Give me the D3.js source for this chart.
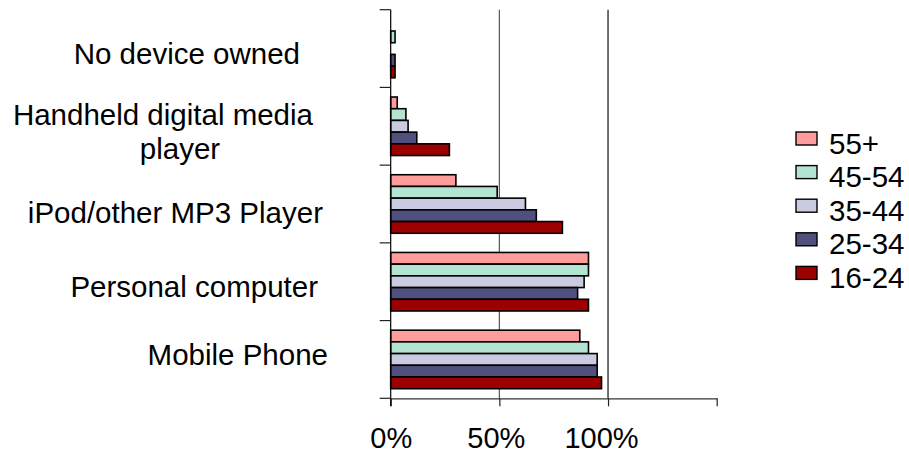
<!DOCTYPE html>
<html>
<head>
<meta charset="utf-8">
<script src="https://cdn.jsdelivr.net/npm/d3@7"></script>
<style>
  html, body { margin: 0; padding: 0; background: #fff; }
  svg { display: block; font-family: "Liberation Sans", Arial, sans-serif; }
</style>
</head>
<body>
<svg id="chart" width="909" height="456"></svg>
<script>
// Device ownership by age group (share of respondents, %)
const categories = ["No device owned", "Handheld digital media player", "iPod/other MP3 Player", "Personal computer", "Mobile Phone"];
const seriesNames = ["55+", "45-54", "35-44", "25-34", "16-24"];
const seriesColors = ["#ff9c9c", "#b3e4d2", "#cacae0", "#50507f", "#9c0000"];

const v55plus = [0, 3, 30, 91, 87];
const v45to54 = [2, 7, 49, 91, 91];
const v35to44 = [0, 8, 62, 89, 95];
const v25to34 = [2, 12, 67, 86, 95];
const v16to24 = [2, 27, 79, 91, 97];

const xTicks = [0, 50, 100, 150];
const xTickLabels = ["0%", "50%", "100%", ""];
const gridValues = [50, 100];

const seriesValues = [v55plus, v45to54, v35to44, v25to34, v16to24];

const svg = d3.select("#chart");
const plot = { left: 390.7, right: 716.7, top: 9.7, bottom: 398.3 };

const x = d3.scaleLinear().domain([0, 150]).range([plot.left, plot.right]);
const y = d3.scaleBand().domain(categories).range([plot.top, plot.bottom]).padding(0);
const yInner = d3.scaleBand().domain(seriesNames).range([0, y.bandwidth()])
  .paddingInner(0).paddingOuter(0.82);

// gridlines
svg.append("g").selectAll("line").data(gridValues).join("line")
  .attr("x1", d => x(d)).attr("x2", d => x(d))
  .attr("y1", plot.top).attr("y2", plot.bottom)
  .attr("stroke", (d, i) => i === 0 ? "#555" : "#111")
  .attr("stroke-width", 1.2);

// bars
const rows = [];
categories.forEach((c, ci) => {
  seriesNames.forEach((s, si) => rows.push({ cat: c, series: s, si, value: seriesValues[si][ci] }));
});
svg.append("g").selectAll("rect").data(rows.filter(d => d.value > 0)).join("rect")
  .attr("x", x(0))
  .attr("y", d => y(d.cat) + yInner(d.series))
  .attr("width", d => x(d.value) - x(0))
  .attr("height", yInner.bandwidth())
  .attr("fill", d => seriesColors[d.si])
  .attr("stroke", "#000")
  .attr("stroke-width", 1.6);

// x axis
const xAxis = svg.append("g").attr("transform", `translate(0,${plot.bottom})`)
  .call(d3.axisBottom(x).tickValues(xTicks).tickSize(8).tickSizeOuter(0).tickFormat((d, i) => xTickLabels[i]));
xAxis.select(".domain").attr("stroke", "#333").attr("stroke-width", 1.2);
xAxis.selectAll(".tick line").attr("stroke", "#222").attr("stroke-width", 1.2);
xAxis.selectAll(".tick text")
  .attr("font-size", 29).attr("fill", "#000")
  .attr("dy", 0).attr("y", 50).attr("dx", (d, i) => -3.5 * i);

// y axis: line with ticks at category boundaries
const yAxisG = svg.append("g");
yAxisG.append("line")
  .attr("x1", plot.left).attr("x2", plot.left)
  .attr("y1", plot.top).attr("y2", plot.bottom + 8)
  .attr("stroke", "#000").attr("stroke-width", 1.2);
const boundaries = categories.map(c => y(c)).concat([plot.bottom]);
yAxisG.selectAll("line.b").data(boundaries).join("line").attr("class", "b")
  .attr("x1", plot.left - 11).attr("x2", plot.left)
  .attr("y1", d => d).attr("y2", d => d)
  .attr("stroke", "#222").attr("stroke-width", 1.2);

// category labels (one text element per category, wrapped lines as tspans)
const labelLayout = {
  "No device owned": [["No device owned", 300, 64, "end"]],
  "Handheld digital media player": [["Handheld digital media", 313, 125, "end"], ["player", 180, 159, "middle"]],
  "iPod/other MP3 Player": [["iPod/other MP3 Player", 323, 223, "end"]],
  "Personal computer": [["Personal computer", 318, 297, "end"]],
  "Mobile Phone": [["Mobile Phone", 328, 365, "end"]]
};
const labels = svg.append("g").attr("font-size", 29.5).attr("fill", "#000");
categories.forEach(c => {
  const t = labels.append("text");
  labelLayout[c].forEach(([s, lx, ly, anchor]) => {
    t.append("tspan").attr("x", lx).attr("y", ly).attr("text-anchor", anchor).text(s);
  });
});

// legend
const legend = svg.append("g").attr("transform", "translate(796,132)");
const item = legend.selectAll("g").data(seriesNames).join("g")
  .attr("transform", (d, i) => `translate(0,${i * 33.6})`);
item.append("rect").attr("width", 21).attr("height", 13)
  .attr("fill", (d, i) => seriesColors[i]).attr("stroke", "#000").attr("stroke-width", 1.4);
item.append("text").attr("x", 33).attr("y", 21.5).attr("font-size", 29.5).attr("fill", "#000").text(d => d);
</script>
</body>
</html>
